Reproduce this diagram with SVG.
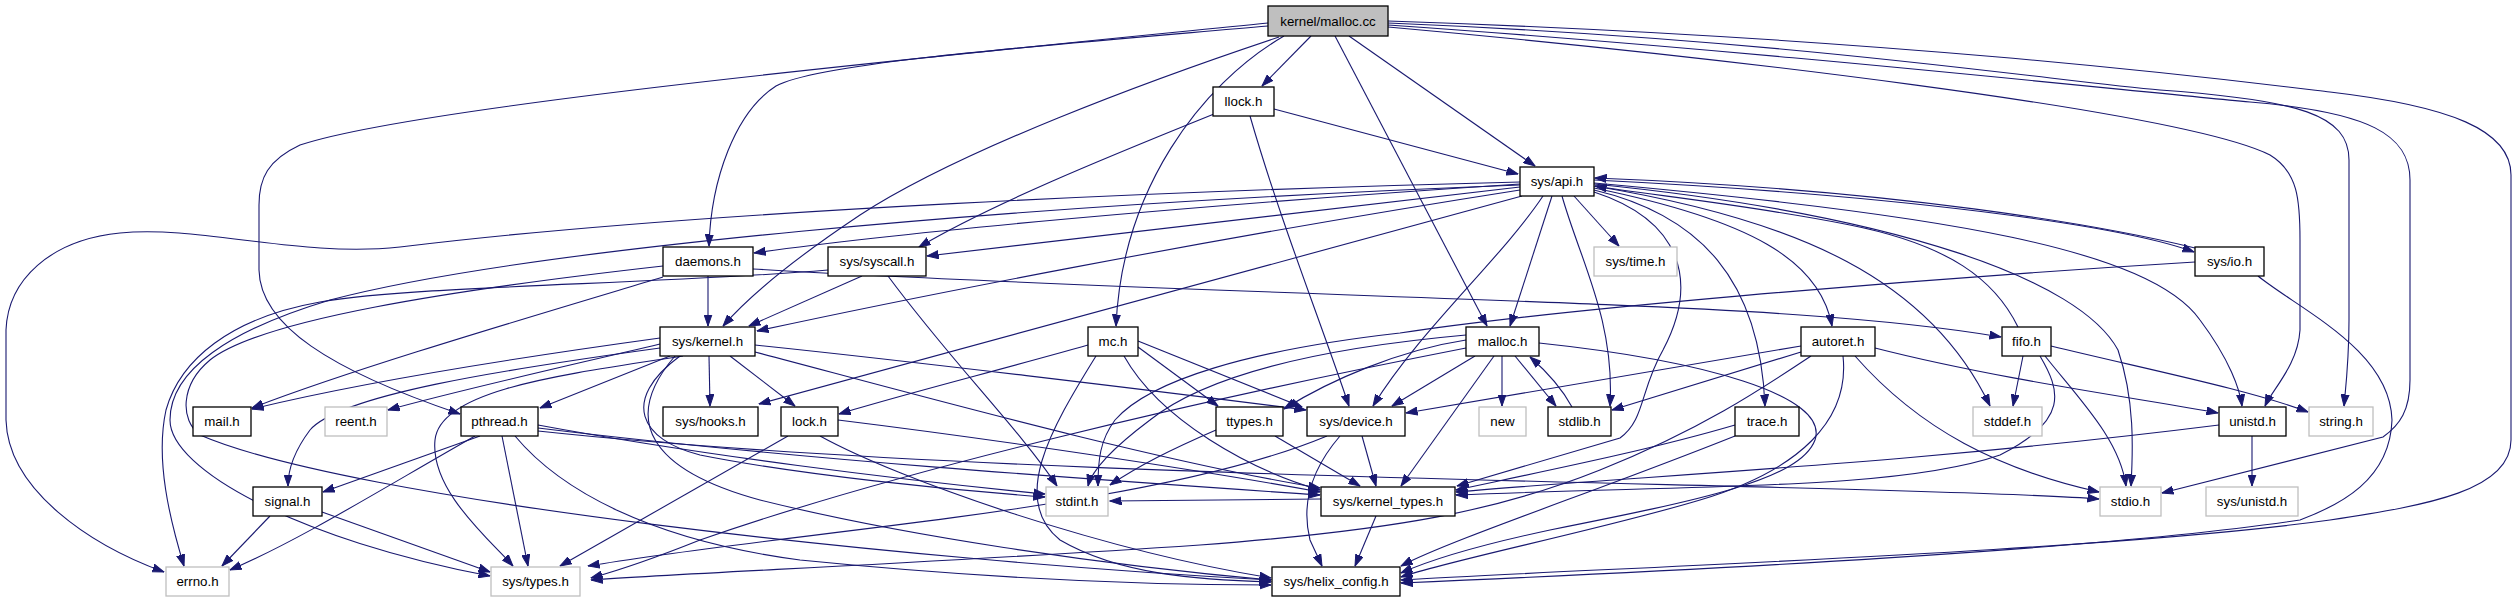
<svg xmlns="http://www.w3.org/2000/svg" width="2517" height="603" viewBox="0 0 2517 603">
<style>
.n rect{fill:#fff;stroke:#000;stroke-width:1.3}
.g rect{fill:#fff;stroke:#bfbfbf;stroke-width:1.3}
.r rect{fill:#bfbfbf;stroke:#000;stroke-width:1.3}
text{font-family:"Liberation Sans",Arial,sans-serif;font-size:13.33px;text-anchor:middle;fill:#000}
#edges path{fill:none;stroke:#191970;stroke-width:1.1;marker-end:url(#a)}
</style>
<defs>
<marker id="a" markerWidth="12" markerHeight="9" refX="11.5" refY="4.5" orient="auto" markerUnits="userSpaceOnUse"><path d="M0,0.5 L11.5,4.5 L0,8.5 z" fill="#191970" stroke="#191970" stroke-width="1"/></marker>
</defs>
<rect width="2517" height="603" fill="#fff"/>
<g id="edges">
<path d="M1311,36 L1262,86"/>
<path d="M1349,36 L1535,166"/>
<path d="M1284,36 C1200,85 1122,190 1116,326"/>
<path d="M1335,36 L1487,326"/>
<path d="M1279,37 C1150,80 960,150 860,215 C800,255 750,295 723,326"/>
<path d="M1268,26 C1050,45 820,62 776,86 C735,112 711,180 709,246"/>
<path d="M1268,23 C950,55 420,105 300,145 C268,160 259,178 259,205 L259,270 C260,325 330,370 460,414"/>
<path d="M1388,21 C1900,38 2230,80 2330,92 C2450,106 2511,130 2511,175 L2511,440 C2511,490 2430,505 2330,520 C2100,552 1600,568 1401,580"/>
<path d="M1388,23 C1800,40 2060,82 2160,90 C2300,100 2349,115 2349,160 L2349,320 C2349,360 2346,385 2344,406"/>
<path d="M1388,25 C1750,50 2100,88 2250,102 C2370,112 2410,135 2410,180 L2410,380 C2410,410 2400,425 2383,437 L2162,493"/>
<path d="M1388,27 C1700,55 2180,110 2270,155 C2298,172 2300,200 2300,240 L2300,330 C2298,365 2272,390 2265,406"/>
<path d="M1274,109 L1518,174"/>
<path d="M1214,114 C1100,160 990,205 919,247"/>
<path d="M1250,116 C1280,220 1320,320 1349,406"/>
<path d="M1520,187 L927,256"/>
<path d="M1520,184 C1200,205 900,232 754,253"/>
<path d="M1520,190 C1200,240 900,300 757,331"/>
<path d="M1522,196 L759,404"/>
<path d="M1520,182 C1200,190 700,210 400,247 C300,258 200,225 120,233 C50,240 8,280 6,330 L6,420 C8,490 90,545 164,572"/>
<path d="M1520,185 C1000,205 520,250 330,300 C230,330 170,370 170,420 C170,470 300,540 490,576"/>
<path d="M1543,196 C1500,260 1420,330 1373,406"/>
<path d="M1552,196 L1510,326"/>
<path d="M1562,196 C1580,260 1615,320 1610,406"/>
<path d="M1594,192 C1680,220 1700,280 1663,350 C1640,390 1645,420 1620,438 L1457,486"/>
<path d="M1574,196 L1619,246"/>
<path d="M1594,190 C1700,215 1760,280 1765,406"/>
<path d="M1594,188 C1750,220 1820,260 1832,326"/>
<path d="M1594,186 C1800,220 1930,280 1990,406"/>
<path d="M1594,184 C1900,215 2080,280 2118,350 C2135,400 2133,450 2131,486"/>
<path d="M1594,183 C1950,215 2150,250 2200,320 C2230,360 2240,390 2242,406"/>
<path d="M1594,180 C1900,195 2120,225 2194,252"/>
<path d="M2195,248 C2100,225 1900,190 1595,178"/>
<path d="M2018,327 C1995,280 1950,245 1850,225 C1750,205 1650,195 1595,186"/>
<path d="M1502,356 L1502,406"/>
<path d="M1515,356 L1556,406"/>
<path d="M1572,407 C1560,385 1545,370 1530,357"/>
<path d="M1475,356 L1392,406"/>
<path d="M1466,340 C1400,350 1330,380 1284,409"/>
<path d="M1466,335 C1300,350 1200,380 1150,420 C1110,450 1092,470 1088,486"/>
<path d="M1466,348 C1200,400 900,470 700,540 C650,560 620,570 591,578"/>
<path d="M1494,356 L1401,486"/>
<path d="M1539,343 C1700,360 1830,395 1815,440 C1800,480 1700,500 1550,530 C1480,545 1430,560 1401,573"/>
<path d="M1088,345 C1000,370 900,395 839,414"/>
<path d="M1138,347 L1218,406"/>
<path d="M1138,341 L1302,407"/>
<path d="M1124,356 C1160,420 1250,470 1320,490"/>
<path d="M1096,356 C1050,430 1010,500 1060,540 C1120,575 1200,580 1271,582"/>
<path d="M1216,430 C1170,450 1140,465 1110,485"/>
<path d="M1275,436 L1360,486"/>
<path d="M1362,436 L1376,486"/>
<path d="M1340,436 C1315,465 1300,500 1310,540 L1322,566"/>
<path d="M1327,436 C1150,510 800,530 588,566"/>
<path d="M1321,499 L1110,501"/>
<path d="M1376,516 L1355,566"/>
<path d="M788,436 L560,566"/>
<path d="M838,420 C1000,440 1200,470 1320,492"/>
<path d="M820,436 C900,480 1100,550 1271,578"/>
<path d="M660,338 C500,360 350,385 252,409"/>
<path d="M660,344 C550,370 460,390 388,410"/>
<path d="M670,356 L540,408"/>
<path d="M660,348 C500,370 340,395 310,430 C295,450 288,470 288,486"/>
<path d="M709,356 L710,406"/>
<path d="M730,356 L795,406"/>
<path d="M683,356 C560,375 440,390 435,440 C430,490 490,540 513,566"/>
<path d="M680,356 C620,400 640,440 700,455 C800,475 950,490 1045,497"/>
<path d="M675,356 C620,420 650,470 760,500 C900,535 1100,565 1271,580"/>
<path d="M755,345 C900,360 1150,390 1306,410"/>
<path d="M755,352 C900,390 1150,460 1320,488"/>
<path d="M480,436 L323,492"/>
<path d="M475,436 C380,490 300,540 230,570"/>
<path d="M502,436 L528,566"/>
<path d="M515,436 C560,490 650,540 800,560 C1000,580 1150,585 1271,585"/>
<path d="M538,425 C700,455 900,480 1045,494"/>
<path d="M538,428 C800,460 1100,480 1320,495"/>
<path d="M538,431 C900,470 1500,480 1800,488 C1950,492 2050,495 2099,499"/>
<path d="M270,516 L222,566"/>
<path d="M322,512 L490,572"/>
<path d="M862,276 L749,326"/>
<path d="M888,276 C950,360 1020,430 1057,486"/>
<path d="M828,270 C650,285 420,285 320,302 C230,318 180,360 166,410 C155,460 170,520 184,566"/>
<path d="M708,276 L708,326"/>
<path d="M663,277 C520,320 350,370 252,408"/>
<path d="M753,269 C1100,290 1600,300 1800,315 C1900,322 1960,330 2001,337"/>
<path d="M663,266 C450,290 260,320 210,360 C180,385 180,420 200,435 C350,500 900,560 1271,580"/>
<path d="M2195,262 C1900,280 1550,310 1400,333 C1250,350 1150,380 1115,420 C1100,440 1098,460 1098,486"/>
<path d="M2258,276 C2300,310 2390,350 2392,420 C2390,480 2340,505 2300,520 C2100,550 1700,570 1401,583"/>
<path d="M1875,348 C2000,380 2150,400 2218,413"/>
<path d="M1855,356 C1920,430 2000,470 2099,492"/>
<path d="M1801,352 L1612,410"/>
<path d="M1801,346 L1406,413"/>
<path d="M1811,356 C1760,390 1700,430 1600,470 C1500,510 1400,530 1200,545 C900,565 700,572 591,580"/>
<path d="M1843,356 C1850,420 1800,470 1700,500 C1600,530 1450,560 1401,577"/>
<path d="M2023,356 L2013,406"/>
<path d="M2045,356 C2080,400 2120,440 2126,486"/>
<path d="M2051,346 C2150,370 2250,390 2308,412"/>
<path d="M2040,356 C2060,390 2070,420 2000,455 C1900,490 1700,485 1456,495"/>
<path d="M1735,425 C1650,450 1550,470 1456,490"/>
<path d="M1735,436 C1600,490 1450,540 1401,566"/>
<path d="M2252,436 L2252,486"/>
<path d="M2219,425 C1900,465 1650,475 1456,492"/>
</g>
<g id="n_kernel_malloc_cc" class="r"><rect x="1268" y="6" width="120" height="30"/><text x="1328" y="26">kernel/malloc.cc</text></g>
<g id="n_llock_h" class="n"><rect x="1213" y="87" width="61" height="29"/><text x="1243.5" y="106">llock.h</text></g>
<g id="n_sys_api_h" class="n"><rect x="1520" y="167" width="74" height="29"/><text x="1557" y="186">sys/api.h</text></g>
<g id="n_daemons_h" class="n"><rect x="663" y="247" width="90" height="29"/><text x="708" y="266">daemons.h</text></g>
<g id="n_sys_syscall_h" class="n"><rect x="828" y="247" width="98" height="29"/><text x="877" y="266">sys/syscall.h</text></g>
<g id="n_sys_time_h" class="g"><rect x="1594" y="247" width="83" height="29"/><text x="1635.5" y="266">sys/time.h</text></g>
<g id="n_sys_io_h" class="n"><rect x="2195" y="247" width="69" height="29"/><text x="2229.5" y="266">sys/io.h</text></g>
<g id="n_sys_kernel_h" class="n"><rect x="660" y="327" width="95" height="29"/><text x="707.5" y="346">sys/kernel.h</text></g>
<g id="n_mc_h" class="n"><rect x="1088" y="327" width="50" height="29"/><text x="1113" y="346">mc.h</text></g>
<g id="n_malloc_h" class="n"><rect x="1466" y="327" width="73" height="29"/><text x="1502.5" y="346">malloc.h</text></g>
<g id="n_autoret_h" class="n"><rect x="1801" y="327" width="74" height="29"/><text x="1838" y="346">autoret.h</text></g>
<g id="n_fifo_h" class="n"><rect x="2002" y="327" width="49" height="29"/><text x="2026.5" y="346">fifo.h</text></g>
<g id="n_mail_h" class="n"><rect x="193" y="407" width="58" height="29"/><text x="222" y="426">mail.h</text></g>
<g id="n_reent_h" class="g"><rect x="325" y="407" width="62" height="29"/><text x="356" y="426">reent.h</text></g>
<g id="n_pthread_h" class="n"><rect x="461" y="407" width="77" height="29"/><text x="499.5" y="426">pthread.h</text></g>
<g id="n_sys_hooks_h" class="n"><rect x="663" y="407" width="95" height="29"/><text x="710.5" y="426">sys/hooks.h</text></g>
<g id="n_lock_h" class="n"><rect x="781" y="407" width="57" height="29"/><text x="809.5" y="426">lock.h</text></g>
<g id="n_ttypes_h" class="n"><rect x="1216" y="407" width="67" height="29"/><text x="1249.5" y="426">ttypes.h</text></g>
<g id="n_sys_device_h" class="n"><rect x="1307" y="407" width="98" height="29"/><text x="1356" y="426">sys/device.h</text></g>
<g id="n_new" class="g"><rect x="1479" y="407" width="47" height="29"/><text x="1502.5" y="426">new</text></g>
<g id="n_stdlib_h" class="n"><rect x="1548" y="407" width="63" height="29"/><text x="1579.5" y="426">stdlib.h</text></g>
<g id="n_trace_h" class="n"><rect x="1735" y="407" width="64" height="29"/><text x="1767" y="426">trace.h</text></g>
<g id="n_stddef_h" class="g"><rect x="1973" y="407" width="69" height="29"/><text x="2007.5" y="426">stddef.h</text></g>
<g id="n_unistd_h" class="n"><rect x="2219" y="407" width="67" height="29"/><text x="2252.5" y="426">unistd.h</text></g>
<g id="n_string_h" class="g"><rect x="2309" y="407" width="64" height="29"/><text x="2341" y="426">string.h</text></g>
<g id="n_signal_h" class="n"><rect x="253" y="487" width="69" height="29"/><text x="287.5" y="506">signal.h</text></g>
<g id="n_stdint_h" class="g"><rect x="1046" y="487" width="62" height="29"/><text x="1077" y="506">stdint.h</text></g>
<g id="n_sys_kernel_types_h" class="n"><rect x="1321" y="487" width="134" height="29"/><text x="1388" y="506">sys/kernel_types.h</text></g>
<g id="n_stdio_h" class="g"><rect x="2100" y="487" width="61" height="29"/><text x="2130.5" y="506">stdio.h</text></g>
<g id="n_sys_unistd_h" class="g"><rect x="2206" y="487" width="92" height="29"/><text x="2252" y="506">sys/unistd.h</text></g>
<g id="n_errno_h" class="g"><rect x="166" y="567" width="63" height="29"/><text x="197.5" y="586">errno.h</text></g>
<g id="n_sys_types_h" class="g"><rect x="491" y="567" width="89" height="29"/><text x="535.5" y="586">sys/types.h</text></g>
<g id="n_sys_helix_config_h" class="n"><rect x="1272" y="567" width="128" height="29"/><text x="1336" y="586">sys/helix_config.h</text></g>
</svg>
